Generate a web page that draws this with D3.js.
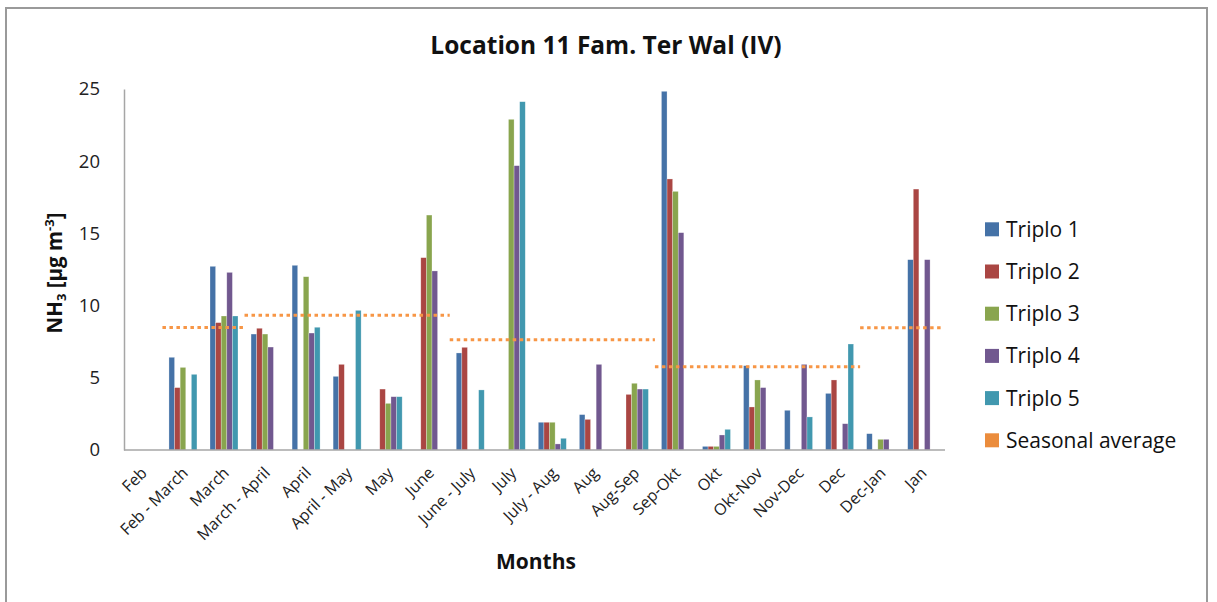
<!DOCTYPE html>
<html>
<head>
<meta charset="utf-8">
<script src="https://cdn.jsdelivr.net/npm/d3@7"></script>
<style>
  html, body { margin: 0; padding: 0; background: #fff; }
  svg { display: block; font-family: "Open Sans", Lato, sans-serif; }
</style>
</head>
<body>
<svg id="chart" width="1217" height="602"></svg>
<script>
const categories = ["Feb","Feb - March","March","March - April","April","April - May","May","June","June - July","July","July - Aug","Aug","Aug-Sep","Sep-Okt","Okt","Okt-Nov","Nov-Dec","Dec","Dec-Jan","Jan"];
const seriesNames = ["Triplo 1","Triplo 2","Triplo 3","Triplo 4","Triplo 5"];
const triplo1 = [null, 6.42, 12.72, 8.03, 12.79, 5.10, null, null, 6.72, null, 1.92, 2.45, null, 24.84, 0.25, 5.84, 2.75, 3.92, 1.13, 13.18];
const triplo2 = [null, 4.32, 8.82, 8.43, null, 5.93, 4.22, 13.32, 7.11, null, 1.92, 2.12, 3.85, 18.77, 0.25, 2.98, null, 4.85, null, 18.07];
const triplo3 = [null, 5.72, 9.28, 8.03, 12.00, null, 3.23, 16.27, null, 22.90, 1.92, null, 4.62, 17.91, 0.25, 4.85, null, null, 0.74, null];
const triplo4 = [null, null, 12.30, 7.13, 8.10, null, 3.69, 12.40, null, 19.69, 0.42, 5.93, 4.22, 15.05, 1.04, 4.32, 5.93, 1.82, 0.74, 13.18];
const triplo5 = [null, 5.24, 9.28, null, 8.50, 9.67, 3.69, null, 4.16, 24.12, 0.81, null, 4.22, null, 1.43, null, 2.29, 7.34, null, null];
const seasonStart = ["Feb - March","March - April","June - July","Sep-Okt","Dec-Jan"];
const seasonEnd = ["March","June","Aug-Sep","Dec","Jan"];
const seasonValues = [8.49, 9.33, 7.64, 5.77, 8.47];
const yTicks = [0, 5, 10, 15, 20, 25];

const seriesValues = [triplo1, triplo2, triplo3, triplo4, triplo5];
const colors = ["#4572A7", "#AA4643", "#89A54E", "#71588F", "#4198AF"];
const seasonColor = "#F79646";
const FONT = "'Open Sans', Lato, sans-serif";

const svg = d3.select("#chart");
svg.append("rect").attr("width", 1217).attr("height", 602).attr("fill", "#fff");
// outer frame
svg.append("path").attr("d", "M6,620 V8 H1207 V620")
  .attr("fill", "none").attr("stroke", "#9a9a9a").attr("stroke-width", 2);

const plotLeft = 121.4, plotRight = 942.2, yBottom = 450, yTop = 89;
const x = d3.scaleBand().domain(categories).range([plotLeft, plotRight]).paddingInner(0).paddingOuter(0);
const bw = x.bandwidth();
const groupW = bw * 0.682;
const x1 = d3.scaleBand().domain(seriesNames).range([0, groupW]);
const y = d3.scaleLinear().domain([0, 25]).range([yBottom, yTop]);

// bars
const g = svg.append("g");
seriesNames.forEach((s, si) => {
  const vals = seriesValues[si];
  g.append("g").selectAll("rect")
    .data(categories.map((c, i) => ({c, v: vals[i]})).filter(d => d.v != null))
    .join("rect")
    .attr("x", d => x(d.c) + (bw - groupW) / 2 + x1(s))
    .attr("y", d => y(d.v))
    .attr("width", x1.bandwidth())
    .attr("height", d => y(0) - y(d.v))
    .attr("fill", colors[si])
    .attr("stroke", "rgba(255,255,255,0.45)")
    .attr("stroke-width", 0.6);
});

// seasonal averages
seasonStart.forEach((s, i) => {
  svg.append("line")
    .attr("x1", x(s))
    .attr("x2", x(seasonEnd[i]) + bw)
    .attr("y1", y(seasonValues[i]))
    .attr("y2", y(seasonValues[i]))
    .attr("stroke", seasonColor)
    .attr("stroke-width", 3)
    .attr("stroke-dasharray", "3.5,3.5");
});

// y axis
const yAxis = svg.append("g").attr("transform", "translate(124,0)")
  .call(d3.axisLeft(y).tickValues(yTicks).tickSize(0).tickSizeOuter(0).tickPadding(24));
yAxis.select(".domain").attr("stroke", "#a6a6a6").attr("stroke-width", 1.5);
yAxis.selectAll("text").attr("font-size", 18.5).attr("fill", "#222").attr("font-family", FONT);

// x axis
const xAxis = svg.append("g").attr("transform", `translate(0,${yBottom})`)
  .call(d3.axisBottom(x).tickSize(0).tickSizeOuter(0));
xAxis.select(".domain").attr("d", `M124,0H945`).attr("stroke", "#a6a6a6").attr("stroke-width", 1.5);
xAxis.selectAll("text")
  .attr("font-size", 16).attr("fill", "#222").attr("font-family", FONT)
  .attr("text-anchor", "end")
  .attr("x", 0).attr("y", 0).attr("dy", 0)
  .attr("transform", "translate(6,24) rotate(-45)");

// title
svg.append("text").attr("x", 606).attr("y", 54).attr("text-anchor", "middle")
  .attr("font-size", 24.5).attr("font-weight", "bold").attr("fill", "#111")
  .text("Location 11 Fam. Ter Wal (IV)");

// x axis title
svg.append("text").attr("x", 536).attr("y", 569).attr("text-anchor", "middle")
  .attr("font-size", 21).attr("font-weight", "bold").attr("fill", "#111")
  .text("Months");

// y axis title
const yt = svg.append("text").attr("transform", "translate(62,273) rotate(-90)")
  .attr("text-anchor", "middle").attr("font-size", 20.5).attr("font-weight", "bold").attr("fill", "#111");
yt.append("tspan").text("NH");
yt.append("tspan").attr("font-size", 13).attr("dy", 4).text("3");
yt.append("tspan").attr("dy", -4).text(" [µg m");
yt.append("tspan").attr("font-size", 13).attr("dy", -8).text("-3");
yt.append("tspan").attr("dy", 8).text("]");

// legend
const legendNames = seriesNames.concat(["Seasonal average"]);
const legendColors = colors.concat(["#EB8C3C"]);
const lg = svg.append("g").selectAll("g").data(legendNames).join("g")
  .attr("transform", (d, i) => `translate(985,${229.3 + i * 42.2})`);
lg.append("rect").attr("x", 0).attr("y", -7).attr("width", 14).attr("height", 14)
  .attr("fill", (d, i) => legendColors[i]);
lg.append("text").attr("x", 21).attr("y", 0).attr("dy", "0.36em")
  .attr("font-size", 21).attr("fill", "#111").text(d => d);
</script>
</body>
</html>
